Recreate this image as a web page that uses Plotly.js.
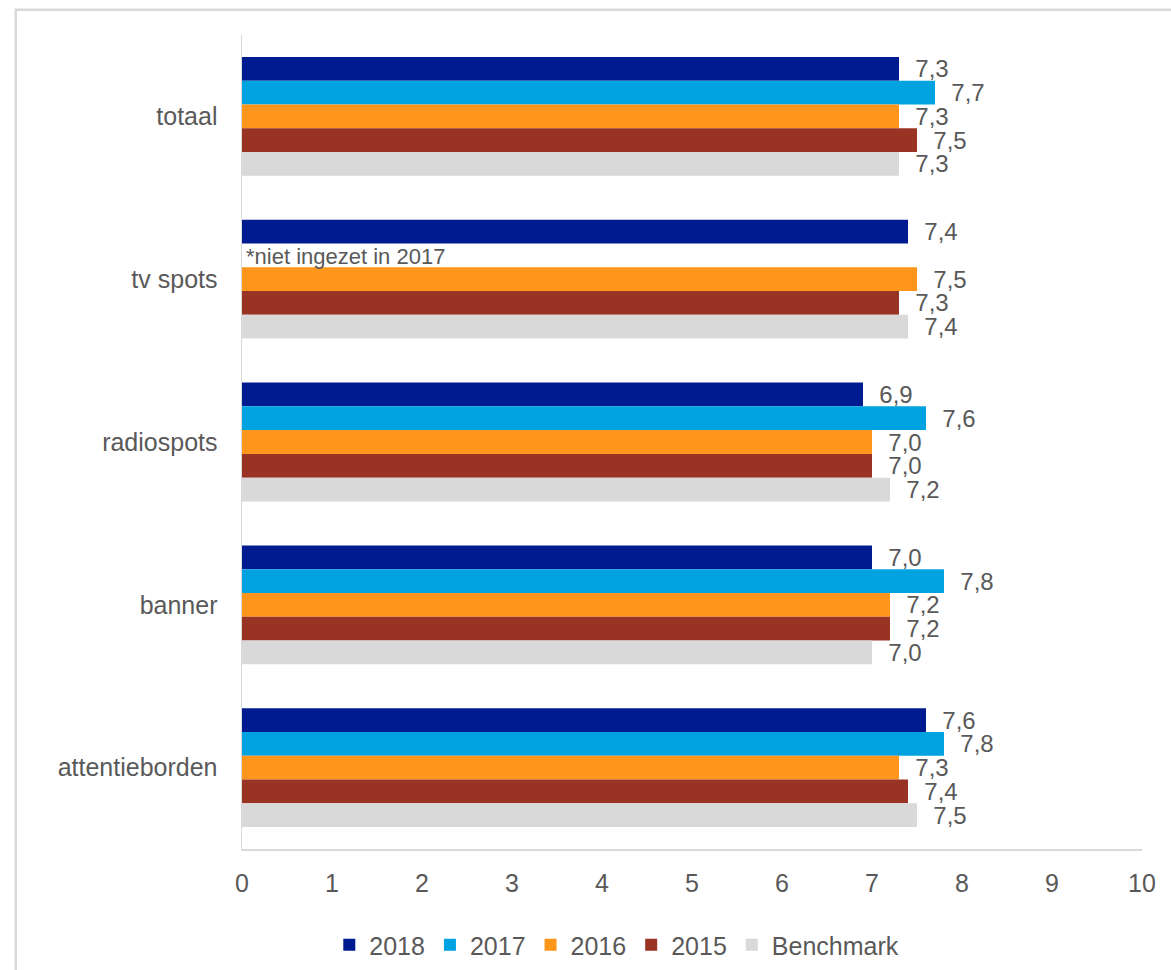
<!DOCTYPE html>
<html>
<head>
<meta charset="utf-8">
<script src="https://cdn.plot.ly/plotly-3.0.1.min.js"></script>
<style>
  html, body { margin: 0; padding: 0; background: #ffffff; }
  #chart { width: 1171px; height: 970px; }
</style>
</head>
<body>
<div id="chart"></div>
<script>
// Waarderingscijfers per middel
const categories = ['totaal', 'tv spots', 'radiospots', 'banner', 'attentieborden'];
const seriesNames = ['2018', '2017', '2016', '2015', 'Benchmark'];
const values2018 = [7.3, 7.4, 6.9, 7.0, 7.6];
const values2017 = [7.7, null, 7.6, 7.8, 7.8];
const values2016 = [7.3, 7.5, 7.0, 7.2, 7.3];
const values2015 = [7.5, 7.3, 7.0, 7.2, 7.4];
const valuesBenchmark = [7.3, 7.4, 7.2, 7.0, 7.5];
const xTicks = [0, 1, 2, 3, 4, 5, 6, 7, 8, 9, 10];
const footnote = '*niet ingezet in 2017';

const seriesValues = [values2018, values2017, values2016, values2015, valuesBenchmark];
const seriesColors = ['#001B8F', '#00A2DF', '#FF961B', '#993324', '#D9D9D9'];
const textColor = '#595959';
const fontFamily = '"Liberation Sans", Arial, sans-serif';

// Dutch decimal comma, padded so the label sits a little off the bar end
function fmt(v) {
  return v == null ? '' : '\u00a0\u00a0' + v.toFixed(1).replace('.', ',');
}

const traces = seriesNames.map((name, i) => ({
  type: 'bar',
  orientation: 'h',
  name: name,
  y: categories,
  x: seriesValues[i],
  text: seriesValues[i].map(fmt),
  textposition: 'outside',
  constraintext: 'none',
  cliponaxis: false,
  textfont: { family: fontFamily, size: 24, color: textColor },
  marker: { color: seriesColors[i] },
  hoverinfo: 'x+name'
}));

const layout = {
  width: 1171,
  height: 970,
  margin: { l: 242, r: 29, t: 35, b: 121, autoexpand: false },
  paper_bgcolor: '#ffffff',
  plot_bgcolor: '#ffffff',
  barmode: 'group',
  bargap: 0.27,
  bargroupgap: 0,
  font: { family: fontFamily, size: 25, color: textColor },
  xaxis: {
    range: [0, 10],
    tickvals: xTicks,
    ticktext: xTicks.map(String),
    showgrid: false,
    zeroline: false,
    showline: true,
    linecolor: '#D9D9D9',
    linewidth: 1.5,
    ticks: 'outside',
    ticklen: 11,
    tickcolor: 'rgba(0,0,0,0)',
    tickfont: { family: fontFamily, size: 25, color: textColor },
    fixedrange: true
  },
  yaxis: {
    type: 'category',
    categoryorder: 'array',
    categoryarray: categories,
    autorange: 'reversed',
    showgrid: false,
    zeroline: false,
    showline: true,
    linecolor: '#D9D9D9',
    linewidth: 1.5,
    ticks: 'outside',
    ticklen: 18,
    tickcolor: 'rgba(0,0,0,0)',
    tickfont: { family: fontFamily, size: 25, color: textColor },
    fixedrange: true
  },
  showlegend: true,
  legend: {
    orientation: 'h',
    x: 0.097,
    xanchor: 'left',
    y: -0.118,
    yanchor: 'middle',
    font: { family: fontFamily, size: 25, color: textColor },
    bgcolor: 'rgba(0,0,0,0)'
  },
  annotations: [{
    text: footnote,
    x: 0,
    y: 'tv spots',
    xref: 'x',
    yref: 'y',
    xanchor: 'left',
    yanchor: 'middle',
    xshift: 2,
    yshift: 23,
    showarrow: false,
    font: { family: fontFamily, size: 22, color: textColor }
  }],
  shapes: [{
    type: 'rect',
    xref: 'paper',
    yref: 'paper',
    x0: -0.2514, x1: 1.07,
    y0: -0.19, y1: 1.031,
    line: { color: '#D9D9D9', width: 2.5 },
    fillcolor: 'rgba(0,0,0,0)',
    layer: 'below'
  }]
};

Plotly.newPlot('chart', traces, layout, { displayModeBar: false, staticPlot: true });
</script>
</body>
</html>
